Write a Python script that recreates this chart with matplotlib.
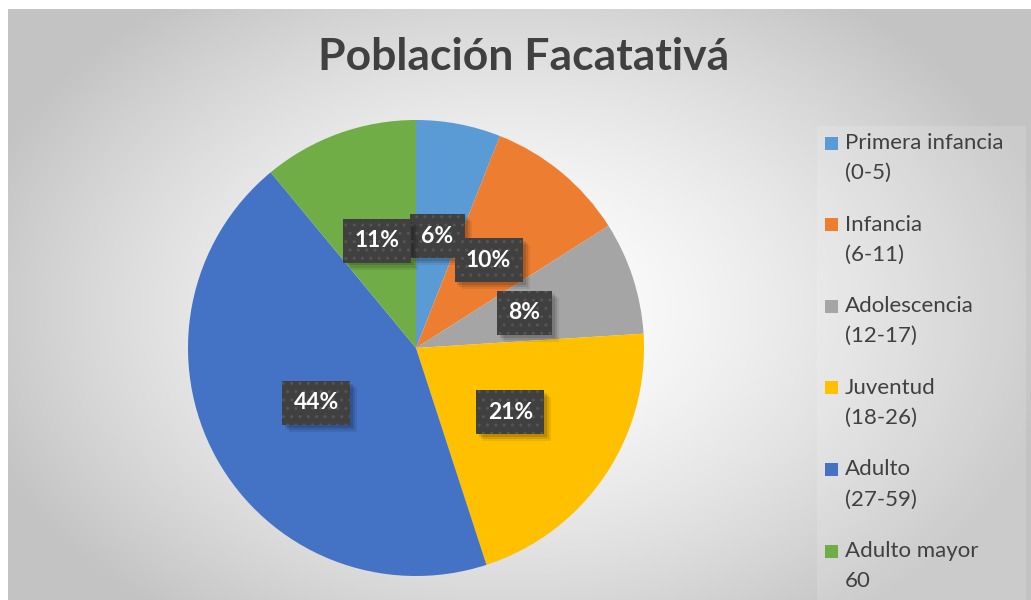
import numpy as np
import matplotlib.pyplot as plt
from matplotlib.patches import Rectangle
import matplotlib.patheffects as pe

categories = ['Primera infancia\n(0-5)', 'Infancia\n(6-11)', 'Adolescencia\n(12-17)',
              'Juventud\n(18-26)', 'Adulto\n(27-59)', 'Adulto mayor\n60']
values = [6, 10, 8, 21, 44, 11]
colors = ['#5B9BD5', '#ED7D31', '#A5A5A5', '#FFC000', '#4472C4', '#70AD47']
title = 'Población Facatativá'

plt.rcParams['font.family'] = ['Lato', 'DejaVu Sans']
plt.rcParams['hatch.linewidth'] = 1.0

W, H = 1031, 600
fig = plt.figure(figsize=(W / 100, H / 100), dpi=100)
fig.patch.set_facecolor('white')

# radial gradient background (white centre -> light grey edges)
bg = fig.add_axes([8 / W, 0, 1 - 8 / W, 1 - 9 / H], zorder=-10)
yy, xx = np.mgrid[0:591, 0:1023]
d = np.sqrt(((xx - 500) / 620) ** 2 + ((yy - 300) / 430) ** 2)
g = np.clip(255 - 70 * d ** 1.5, 195, 255) / 255
bg.imshow(np.dstack([g, g, g]), aspect='auto', extent=(0, 1, 0, 1))
bg.add_patch(Rectangle((809 / 1023, 0), 209 / 1023, 474 / 591, transform=bg.transAxes,
                       facecolor='white', alpha=0.14, edgecolor='none'))
bg.axis('off')

fig.text(524 / W, 1 - 57 / H, title, ha='center', va='center',
         fontsize=32, fontweight='bold', color='#404040')

# pie
cx, cy, r = 416, 348, 228
ax = fig.add_axes([(cx - r) / W, (H - cy - r) / H, 2 * r / W, 2 * r / H])
wedges, _, autotexts = ax.pie(values, colors=colors, startangle=90, counterclock=False,
                              autopct=lambda p: f'{p:.0f}%', pctdistance=0.5,
                              wedgeprops=dict(linewidth=0))
ax.set_xlim(-1, 1)
ax.set_ylim(-1, 1)
ax.set_aspect('equal')
ax.axis('off')

for t in autotexts:
    t.set_fontsize(16.5)
    t.set_fontweight('bold')
    t.set_color('white')
    t.set_bbox(dict(boxstyle='square,pad=0.5', facecolor='#404040',
                    edgecolor='#555555', hatch='..', linewidth=0))
    t.set_zorder(5)
    t.get_bbox_patch().set_path_effects([
        pe.SimplePatchShadow(offset=(5, -5), shadow_rgbFace='black', alpha=0.07, hatch=None),
        pe.SimplePatchShadow(offset=(3.5, -3.5), shadow_rgbFace='black', alpha=0.1, hatch=None),
        pe.SimplePatchShadow(offset=(2, -2), shadow_rgbFace='black', alpha=0.12, hatch=None),
        pe.Normal()])

# legend
for i, (lab, col) in enumerate(zip(categories, colors)):
    y0 = 143 + i * 81.6
    fig.patches.append(Rectangle((825 / W, 1 - (y0 + 6.5) / H), 13 / W, 13 / H,
                                 transform=fig.transFigure, facecolor=col,
                                 edgecolor='none'))
    first, second = lab.split('\n')
    fig.text(845 / W, 1 - y0 / H, first, ha='left', va='center',
             fontsize=16, color='#404040')
    fig.text(845 / W, 1 - (y0 + 30) / H, second, ha='left', va='center',
             fontsize=16, color='#404040')

fig.savefig('out.png', dpi=100)
